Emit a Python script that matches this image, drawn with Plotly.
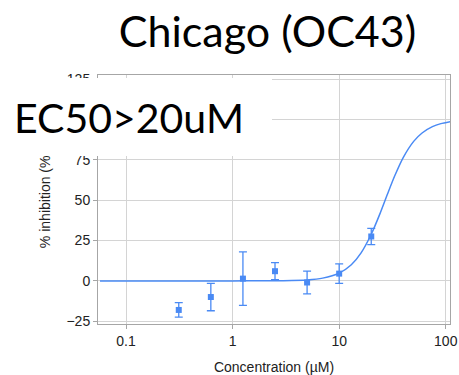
import plotly.graph_objects as go

# measured data (from picture)
conc = [0.3125, 0.625, 1.25, 2.5, 5, 10, 20]
inhib = [-18, -10, 1.4, 6, -1, 4.5, 27.5]
err = [4.5, 8.5, 16.6, 5.3, 7, 6, 5]

# fitted curve
curve_x = [0.057, 0.5, 1, 2, 3, 5, 7, 10, 13, 16, 20, 24, 28, 33, 40, 50, 60, 75, 90, 110]
curve_y = [0, 0, 0, 0.04, 0.14, 0.6, 1.7, 4.8, 10, 17.2, 28.9, 41.2, 52.7, 64.6, 76.5, 86.4, 91.6, 95.5, 97.4, 98.6]

x_ticks = [0.1, 1, 10, 100]
x_labels = ["0.1", "1", "10", "100"]
y_ticks = [-25, 0, 25, 50, 75, 100, 125]

title_text = "Chicago (OC43)"
ec50_text = "EC50>20uM"

blue = "#4a8af4"

fig = go.Figure()
fig.add_trace(go.Scatter(x=curve_x, y=curve_y, mode="lines",
                         line=dict(color=blue, width=1.5, shape="spline", smoothing=0.6),
                         hoverinfo="skip", showlegend=False))
fig.add_trace(go.Scatter(x=conc, y=inhib, mode="markers",
                         marker=dict(symbol="square", size=6, color=blue),
                         error_y=dict(type="data", array=err, color=blue, thickness=1.3, width=4),
                         showlegend=False))

L, R, T, B = 98, 9, 75, 51
W, H = 459, 375
pw, ph = W - L - R, H - T - B

def px(p):
    return (p - L) / pw

def py(p):
    return (H - B - p) / ph

axis_common = dict(showline=True, linecolor="#a6a6a6", linewidth=1, mirror=True,
                   showgrid=True, gridcolor="#d4d4d4", gridwidth=1, zeroline=False,
                   ticks="outside", ticklen=4, tickcolor="#a6a6a6", automargin=False,
                   tickfont=dict(family="Liberation Sans, Arial", size=14, color="#222"))

fig.update_layout(
    width=W, height=H,
    margin=dict(l=L, r=R, t=T, b=B, autoexpand=False),
    plot_bgcolor="white", paper_bgcolor="white",
    xaxis=dict(type="log", range=[-1.263, 2.04], tickvals=x_ticks, ticktext=x_labels,
               title=dict(text="Concentration (µM)", standoff=14,
                          font=dict(family="Liberation Sans, Arial", size=14, color="#222")),
               **axis_common),
    yaxis=dict(range=[-26.7, 127.5], tickvals=y_ticks,
               title=dict(text="% inhibition (%)", standoff=12,
                          font=dict(family="Liberation Sans, Arial", size=14, color="#222")),
               **axis_common),
    title=dict(text=title_text, x=267.5 / W, xref="container", xanchor="center",
               y=1 - 32 / H, yref="container", yanchor="middle",
               font=dict(family="Lato", size=43, color="black")),
)

# white cover box
fig.add_annotation(xref="paper", yref="paper", x=px(0), y=py(77.5), xanchor="left", yanchor="top",
                   text=" ", showarrow=False, bgcolor="white", width=272, height=78,
                   borderpad=0, borderwidth=0)
fig.add_annotation(xref="paper", yref="paper", x=px(12), y=py(117), xanchor="left", yanchor="middle",
                   text=ec50_text, showarrow=False,
                   font=dict(family="Lato", size=41, color="black"))

fig.write_html("out.html", config={"displayModeBar": False},
               post_script="document.body.style.margin='0';document.body.style.overflow='hidden';")
